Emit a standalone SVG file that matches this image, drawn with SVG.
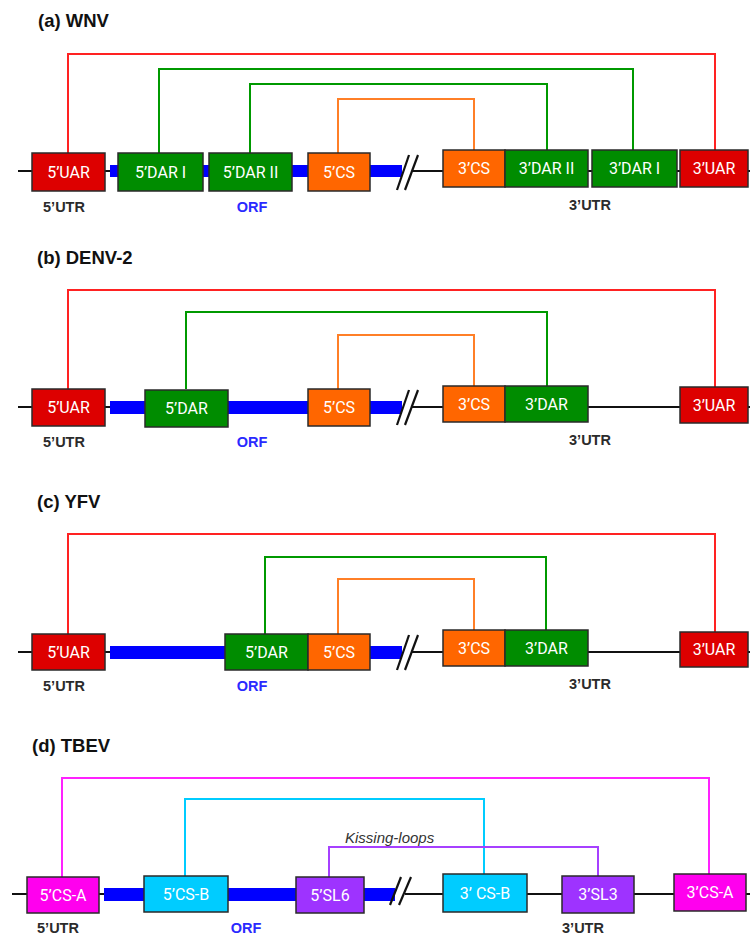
<svg xmlns="http://www.w3.org/2000/svg" width="750" height="938" viewBox="0 0 750 938">
<style>
.title{font-family:"Liberation Sans",Arial,sans-serif;font-weight:bold;font-size:18.5px;fill:#111}
.lbl{font-family:Roboto,"Liberation Sans",sans-serif;font-size:16px;fill:#fff;text-anchor:middle}
.utr{font-family:"Liberation Sans",Arial,sans-serif;font-weight:bold;font-size:14.5px;fill:#2b2b2b;text-anchor:middle}
.orf{font-family:"Liberation Sans",Arial,sans-serif;font-weight:bold;font-size:14.5px;fill:#2a2aff;text-anchor:middle}
.kiss{font-family:"Liberation Sans",Arial,sans-serif;font-style:italic;font-size:15px;fill:#333}
.bb{stroke:#111;stroke-width:2;fill:none}
.blue{fill:#0000ff}
.sl{stroke:#111;stroke-width:2.2;fill:none}
.box{stroke:#2a2a2a;stroke-width:1.5}
.red{fill:#dd0000}.grn{fill:#008c00}.org{fill:#ff6600}.mag{fill:#ff00ee}.cyn{fill:#00ccff}.pur{fill:#9e33ff}
.c{fill:none;stroke-width:2}
.cr{stroke:#ff2222}.cg{stroke:#009900}.co{stroke:#ff7f27}.cm{stroke:#ff22ff}.cc{stroke:#00ccff}.cp{stroke:#a640ff}
</style>

<!-- Panel (a) WNV -->
<g id="panel-a">
<text class="title" x="38" y="27">(a) WNV</text>
<g id="a-backbone">
<line class="bb" x1="18" y1="171" x2="750" y2="171"/>
<rect class="blue" x="110" y="165" width="293" height="12"/>
<rect x="402" y="160" width="10" height="22" fill="#fff"/>
<line class="sl" x1="397" y1="190" x2="409" y2="155"/>
<line class="sl" x1="405" y1="190" x2="418" y2="155"/>
</g>
<g id="a-connectors">
<path class="c cr" d="M68,153 V54 H715 V150"/>
<path class="c cg" d="M159,153 V69 H633 V150"/>
<path class="c cg" d="M250,153 V84 H547 V150"/>
<path class="c co" d="M338,153 V99 H474 V150"/>
</g>
<g id="a-5UAR"><rect class="box red" x="32" y="153" width="73" height="38"/><text class="lbl" x="68.5" y="178">5’UAR</text></g>
<g id="a-5DARI"><rect class="box grn" x="118" y="153" width="85" height="38"/><text class="lbl" x="160.5" y="178">5’DAR I</text></g>
<g id="a-5DARII"><rect class="box grn" x="209" y="153" width="83" height="38"/><text class="lbl" x="250.5" y="178">5’DAR II</text></g>
<g id="a-5CS"><rect class="box org" x="308" y="153" width="62" height="38"/><text class="lbl" x="339" y="178">5’CS</text></g>
<g id="a-3CS"><rect class="box org" x="443" y="150" width="62" height="37"/><text class="lbl" x="474" y="174">3’CS</text></g>
<g id="a-3DARII"><rect class="box grn" x="505" y="150" width="83" height="37"/><text class="lbl" x="546.5" y="174">3’DAR II</text></g>
<g id="a-3DARI"><rect class="box grn" x="592" y="150" width="85" height="37"/><text class="lbl" x="634.5" y="174">3’DAR I</text></g>
<g id="a-3UAR"><rect class="box red" x="680" y="150" width="68" height="37"/><text class="lbl" x="714" y="174">3’UAR</text></g>
<text class="utr" x="64" y="212">5’UTR</text>
<text class="orf" x="252" y="212">ORF</text>
<text class="utr" x="590" y="210">3’UTR</text>
</g>

<!-- Panel (b) DENV-2 -->
<g id="panel-b">
<text class="title" x="37" y="264">(b) DENV-2</text>
<g id="b-backbone">
<line class="bb" x1="18" y1="407" x2="750" y2="407"/>
<rect class="blue" x="110" y="401" width="293" height="13"/>
<rect x="402" y="396" width="10" height="22" fill="#fff"/>
<line class="sl" x1="397" y1="425" x2="409" y2="390"/>
<line class="sl" x1="405" y1="425" x2="418" y2="390"/>
</g>
<g id="b-connectors">
<path class="c cr" d="M68,389 V290 H715 V387"/>
<path class="c cg" d="M186,389 V312 H547 V386"/>
<path class="c co" d="M338,389 V335 H474 V386"/>
</g>
<g id="b-5UAR"><rect class="box red" x="32" y="389" width="73" height="37"/><text class="lbl" x="68.5" y="413">5’UAR</text></g>
<g id="b-5DAR"><rect class="box grn" x="145" y="390" width="83" height="37"/><text class="lbl" x="186.5" y="414">5’DAR</text></g>
<g id="b-5CS"><rect class="box org" x="308" y="389" width="62" height="37"/><text class="lbl" x="339" y="413">5’CS</text></g>
<g id="b-3CS"><rect class="box org" x="443" y="386" width="62" height="36"/><text class="lbl" x="474" y="410">3’CS</text></g>
<g id="b-3DAR"><rect class="box grn" x="505" y="386" width="83" height="36"/><text class="lbl" x="546.5" y="410">3’DAR</text></g>
<g id="b-3UAR"><rect class="box red" x="680" y="387" width="68" height="36"/><text class="lbl" x="714" y="411">3’UAR</text></g>
<text class="utr" x="64" y="447">5’UTR</text>
<text class="orf" x="252" y="447">ORF</text>
<text class="utr" x="590" y="445">3’UTR</text>
</g>

<!-- Panel (c) YFV -->
<g id="panel-c">
<text class="title" x="37" y="508">(c) YFV</text>
<g id="c-backbone">
<line class="bb" x1="18" y1="652" x2="750" y2="652"/>
<rect class="blue" x="110" y="646" width="293" height="13"/>
<rect x="402" y="641" width="10" height="22" fill="#fff"/>
<line class="sl" x1="397" y1="670" x2="409" y2="635"/>
<line class="sl" x1="405" y1="670" x2="418" y2="635"/>
</g>
<g id="c-connectors">
<path class="c cr" d="M68,634 V534 H715 V632"/>
<path class="c cg" d="M265,634 V557 H546 V630"/>
<path class="c co" d="M338,634 V579 H474 V630"/>
</g>
<g id="c-5UAR"><rect class="box red" x="32" y="634" width="73" height="36"/><text class="lbl" x="68.5" y="658">5’UAR</text></g>
<g id="c-5DAR"><rect class="box grn" x="225" y="634" width="83" height="36"/><text class="lbl" x="266.5" y="658">5’DAR</text></g>
<g id="c-5CS"><rect class="box org" x="308" y="634" width="62" height="36"/><text class="lbl" x="339" y="658">5’CS</text></g>
<g id="c-3CS"><rect class="box org" x="443" y="630" width="62" height="36"/><text class="lbl" x="474" y="654">3’CS</text></g>
<g id="c-3DAR"><rect class="box grn" x="505" y="630" width="83" height="36"/><text class="lbl" x="546.5" y="654">3’DAR</text></g>
<g id="c-3UAR"><rect class="box red" x="680" y="632" width="68" height="35"/><text class="lbl" x="714" y="655">3’UAR</text></g>
<text class="utr" x="64" y="691">5’UTR</text>
<text class="orf" x="252" y="691">ORF</text>
<text class="utr" x="590" y="689">3’UTR</text>
</g>

<!-- Panel (d) TBEV -->
<g id="panel-d">
<text class="title" x="32" y="752">(d) TBEV</text>
<g id="d-backbone">
<line class="bb" x1="12" y1="894" x2="750" y2="894"/>
<rect class="blue" x="104" y="888" width="292" height="13"/>
<rect x="395" y="884" width="10" height="20" fill="#fff"/>
<line class="sl" x1="390" y1="905" x2="401" y2="877"/>
<line class="sl" x1="399" y1="905" x2="411" y2="877"/>
</g>
<g id="d-connectors">
<path class="c cm" d="M62,877 V778 H709 V874"/>
<path class="c cc" d="M185,876 V799 H484 V874"/>
<path class="c cp" d="M329,877 V847 H598 V876"/>
</g>
<text class="kiss" x="345" y="843">Kissing-loops</text>
<g id="d-5CSA"><rect class="box mag" x="27" y="877" width="72" height="36"/><text class="lbl" x="63" y="901">5’CS-A</text></g>
<g id="d-5CSB"><rect class="box cyn" x="144" y="876" width="84" height="36"/><text class="lbl" x="186" y="900">5’CS-B</text></g>
<g id="d-5SL6"><rect class="box pur" x="296" y="877" width="68" height="36"/><text class="lbl" x="330" y="901">5’SL6</text></g>
<g id="d-3CSB"><rect class="box cyn" x="443" y="874" width="84" height="38"/><text class="lbl" x="485" y="899">3’ CS-B</text></g>
<g id="d-3SL3"><rect class="box pur" x="562" y="876" width="72" height="37"/><text class="lbl" x="598" y="900">3’SL3</text></g>
<g id="d-3CSA"><rect class="box mag" x="674" y="874" width="72" height="37"/><text class="lbl" x="710" y="898">3’CS-A</text></g>
<text class="utr" x="58" y="933">5’UTR</text>
<text class="orf" x="246" y="933">ORF</text>
<text class="utr" x="583" y="933">3’UTR</text>
</g>
</svg>
